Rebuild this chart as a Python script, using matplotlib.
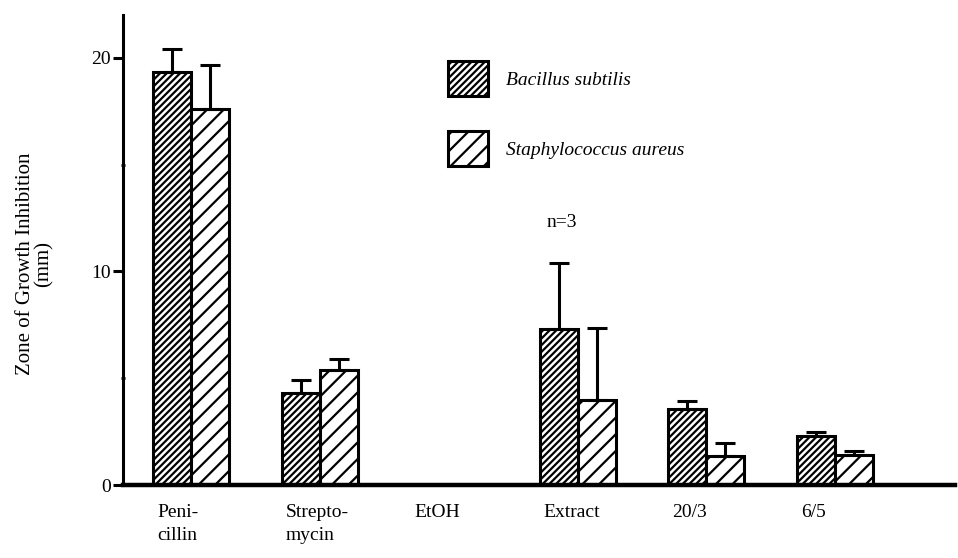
import numpy as np
import matplotlib.pyplot as plt

plt.rcParams['font.family'] = ['Liberation Serif', 'DejaVu Serif']
plt.rcParams['hatch.linewidth'] = 1.6
plt.rcParams['hatch.color'] = 'black'

# data (mm)
categories = ['Peni-\ncillin', 'Strepto-\nmycin', 'EtOH', 'Extract', '20/3', '6/5']
subtilis = [19.35, 4.30, 0.0, 7.29, 3.55, 2.29]
subtilis_err = [1.07, 0.61, 0.0, 3.08, 0.38, 0.19]
aureus = [17.62, 5.37, 0.0, 3.97, 1.36, 1.40]
aureus_err = [2.05, 0.52, 0.0, 3.37, 0.60, 0.19]

x = np.arange(len(categories))
width = 0.295

fig = plt.figure(figsize=(9.58, 5.58), dpi=100)
ax = fig.add_axes([0.1284, 0.1308, 0.8685, 0.8423])

lw = 2.2
ax.bar(x - width / 2, subtilis, width, facecolor='white', edgecolor='black',
       linewidth=lw, hatch='/////', label='Bacillus subtilis', zorder=2)
ax.bar(x + width / 2, aureus, width, facecolor='white', edgecolor='black',
       linewidth=lw, hatch='//', label='Staphylococcus aureus', zorder=2)

zeros = np.zeros(len(x))
ax.errorbar(x - width / 2, subtilis, yerr=[zeros, subtilis_err], fmt='none',
            ecolor='black', elinewidth=lw, capsize=7, capthick=lw, zorder=3)
ax.errorbar(x + width / 2, aureus, yerr=[zeros, aureus_err], fmt='none',
            ecolor='black', elinewidth=lw, capsize=7, capthick=lw, zorder=3)

ax.set_xlim(-0.528, 5.93)
ax.set_ylim(0, 22)

ax.set_xticks(x - width + 0.03)
ax.set_xticklabels(categories, ha='left', fontsize=14, linespacing=1.4)
ax.tick_params(axis='x', length=0, pad=14)

ax.set_yticks([0, 10, 20])
ax.set_yticks([5, 15], minor=True)
ax.tick_params(axis='y', which='major', length=7, width=2.2, labelsize=14, pad=2)
ax.tick_params(axis='y', which='minor', length=3, width=2.0, direction='inout')

ax.set_ylabel('Zone of Growth Inhibition\n(mm)', fontsize=15, linespacing=1.0)
ax.yaxis.set_label_coords(-0.083, 0.47)

for side in ['top', 'right']:
    ax.spines[side].set_visible(False)
ax.spines['left'].set_linewidth(2.2)
ax.spines['bottom'].set_linewidth(3.2)

leg = ax.legend(loc='upper left', bbox_to_anchor=(0.3906, 0.902), frameon=False,
                handlelength=2.06, handleheight=2.4,
                labelspacing=1.8, handletextpad=0.93, borderpad=0, borderaxespad=0,
                prop={'style': 'italic', 'size': 14})

ax.text(x[3] - 0.12, 12.3, 'n=3', ha='center', va='center', fontsize=14)

fig.savefig('out.png', dpi=100)
